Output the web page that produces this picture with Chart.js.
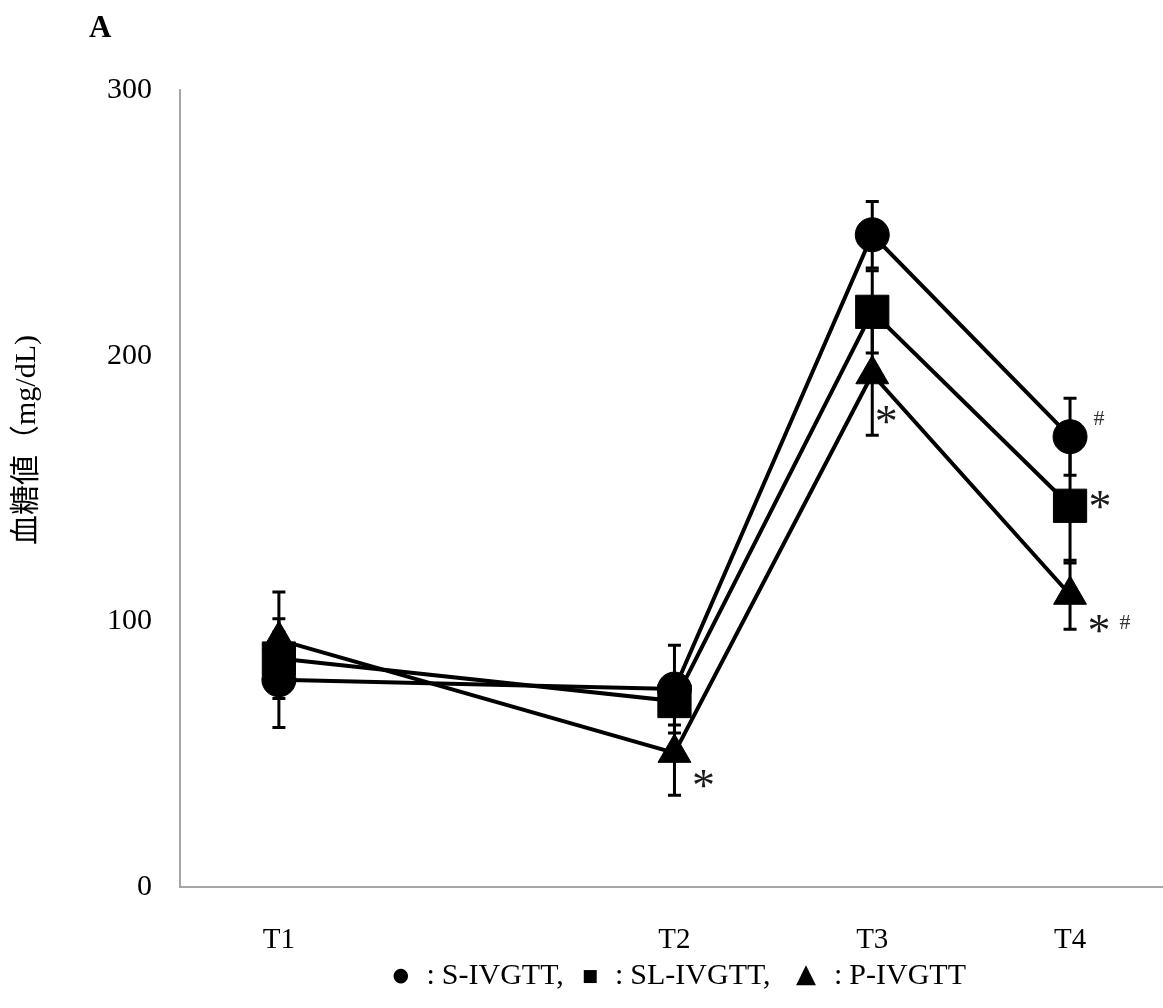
<!DOCTYPE html>
<html><head><meta charset="utf-8">
<script src="https://cdn.jsdelivr.net/npm/chart.js@4/dist/chart.umd.min.js"></script>
<style>html,body{margin:0;padding:0;background:#fff;}</style>
</head><body>
<canvas id="c" width="1163" height="1008"></canvas>
<script>
// ---- data ----
const categories = ['T1', 'T2', 'T3', 'T4'];
const timeIndex = [0, 2, 3, 4];
const seriesNames = ['S-IVGTT', 'SL-IVGTT', 'P-IVGTT'];
const seriesSymbols = ['●', '■', '▲'];
const sIvgtt = [78, 74.5, 245.5, 169.5];
const sIvgttSD = [18, 16.5, 12.5, 14.5];
const slIvgtt = [86, 70, 216.5, 143.5];
const slIvgttSD = [15, 9, 15.5, 21.5];
const pIvgtt = [93, 50.5, 193, 110];
const pIvgttSD = [18, 16, 23, 13];
const yTicks = [0, 100, 200, 300];
const marks = [
  {series: 2, point: 1, text: '*'},
  {series: 2, point: 2, text: '*'},
  {series: 0, point: 3, text: '#'},
  {series: 1, point: 3, text: '*'},
  {series: 2, point: 3, text: '*'},
  {series: 2, point: 3, text: '#'}
];
const panelLabel = 'A';
const yTitle = '血糖値（mg/dL)';

// ---- styles ----
const markOffsets = [[29, 26], [14, 41], [29, -19], [30, -6], [29, 29], [55, 27]];
const legendCenters = [[401, 976], [590, 977], [806, 975]];   // symbol centres
const symbolFonts = ["19px 'DejaVu Sans'", "17px 'DejaVu Sans'", "26px 'DejaVu Sans'"];
const serif = "'Liberation Serif', 'Noto Sans CJK JP', serif";
const pointStyles = ['circle', 'rect', 'triangle'];
const pointRadii = [17, 23.5, 19];
const values = [sIvgtt, slIvgtt, pIvgtt];
const sds = [sIvgttSD, slIvgttSD, pIvgttSD];

const datasets = values.map((vals, s) => ({
  label: seriesNames[s],
  data: vals.map((v, i) => ({x: timeIndex[i], y: v})),
  showLine: true,
  borderColor: '#000',
  backgroundColor: '#000',
  borderWidth: 4,
  pointStyle: pointStyles[s],
  pointRadius: pointRadii[s],
  pointHoverRadius: pointRadii[s],
  pointBackgroundColor: '#000',
  pointBorderColor: '#000',
  pointBorderWidth: 1,
  tension: 0,
  fill: false
}));

function drawCentered(ctx, text, font, color, cx, cy) {
  ctx.save();
  ctx.font = font;
  ctx.fillStyle = color;
  ctx.textAlign = 'left';
  ctx.textBaseline = 'alphabetic';
  const m = ctx.measureText(text);
  const w = m.actualBoundingBoxLeft + m.actualBoundingBoxRight;
  const h = m.actualBoundingBoxAscent + m.actualBoundingBoxDescent;
  const x = cx - w / 2 + m.actualBoundingBoxLeft;
  const y = cy - h / 2 + m.actualBoundingBoxAscent;
  ctx.fillText(text, x, y);
  ctx.restore();
  return w;
}

const errorBars = {
  id: 'errorBars',
  beforeDatasetsDraw(chart) {
    const ctx = chart.ctx, xs = chart.scales.x, ys = chart.scales.y;
    ctx.save();
    ctx.strokeStyle = '#000';
    ctx.lineCap = 'butt';
    values.forEach((vals, s) => {
      vals.forEach((v, i) => {
        const x = xs.getPixelForValue(timeIndex[i]);
        const yTop = ys.getPixelForValue(v + sds[s][i]);
        const yBot = ys.getPixelForValue(v - sds[s][i]);
        ctx.lineWidth = 3;
        ctx.beginPath();
        ctx.moveTo(x, yTop); ctx.lineTo(x, yBot);
        ctx.moveTo(x - 6.5, yTop); ctx.lineTo(x + 6.5, yTop);
        ctx.moveTo(x - 6.5, yBot); ctx.lineTo(x + 6.5, yBot);
        ctx.stroke();
      });
    });
    ctx.restore();
  }
};

const texts = {
  id: 'texts',
  afterDraw(chart) {
    const ctx = chart.ctx, xs = chart.scales.x, ys = chart.scales.y;
    // significance marks
    marks.forEach((m, k) => {
      const px = xs.getPixelForValue(timeIndex[m.point]) + markOffsets[k][0];
      const py = ys.getPixelForValue(values[m.series][m.point]) + markOffsets[k][1];
      if (m.text === '*') drawCentered(ctx, '*', "46px " + serif, '#1a1a1a', px, py);
      else drawCentered(ctx, '#', "22px " + serif, '#333', px, py);
    });
    // panel label
    ctx.save();
    ctx.fillStyle = '#000';
    ctx.font = "bold 31px " + serif;
    ctx.textAlign = 'left';
    ctx.textBaseline = 'alphabetic';
    ctx.fillText(panelLabel, 89, 37);
    ctx.restore();
    // y title
    ctx.save();
    ctx.translate(27, 440);
    ctx.rotate(-Math.PI / 2);
    ctx.fillStyle = '#000';
    ctx.font = "30px " + serif;
    ctx.textAlign = 'center';
    ctx.textBaseline = 'middle';
    ctx.fillText(yTitle, 0, 0);
    ctx.restore();
    // legend line: "● : S-IVGTT, ■ : SL-IVGTT, ▲ : P-IVGTT"
    seriesNames.forEach((name, s) => {
      const [cx, cy] = legendCenters[s];
      const w = drawCentered(ctx, seriesSymbols[s], symbolFonts[s], '#000', cx, cy);
      ctx.save();
      ctx.fillStyle = '#000';
      ctx.textBaseline = 'alphabetic';
      ctx.textAlign = 'left';
      ctx.font = "30px " + serif;
      const colonX = cx + w / 2 + 18;
      ctx.fillText(':', colonX, 984);
      const nameX = colonX + ctx.measureText(':').width + 7;
      ctx.fillText(name + (s < seriesNames.length - 1 ? ',' : ''), nameX, 984);
      ctx.restore();
    });
  }
};

new Chart(document.getElementById('c'), {
  type: 'scatter',
  data: {datasets},
  options: {
    responsive: false,
    animation: false,
    events: [],
    layout: {autoPadding: false, padding: {top: 90, right: 0, bottom: 0, left: 0}},
    plugins: {legend: {display: false}, tooltip: {enabled: false}, title: {display: false}},
    scales: {
      x: {
        type: 'linear',
        min: -0.5,
        max: 4.47,
        afterBuildTicks: (scale) => { scale.ticks = timeIndex.map(v => ({value: v})); },
        afterFit: (scale) => { scale.height = 121; },
        grid: {display: false, drawTicks: false},
        border: {display: true, color: '#a6a6a6', width: 2},
        ticks: {
          padding: 36,
          color: '#000',
          font: {family: serif, size: 29},
          autoSkip: false,
          maxRotation: 0,
          callback: (v) => categories[timeIndex.indexOf(v)] ?? ''
        }
      },
      y: {
        min: 0,
        max: 300,
        afterBuildTicks: (scale) => { scale.ticks = yTicks.map(v => ({value: v})); },
        afterFit: (scale) => { scale.width = 180; },
        grid: {display: false, drawTicks: false},
        border: {display: true, color: '#a6a6a6', width: 2},
        ticks: {padding: 28, color: '#000', font: {family: serif, size: 30}}
      }
    }
  },
  plugins: [errorBars, texts]
});
</script>
</body></html>
